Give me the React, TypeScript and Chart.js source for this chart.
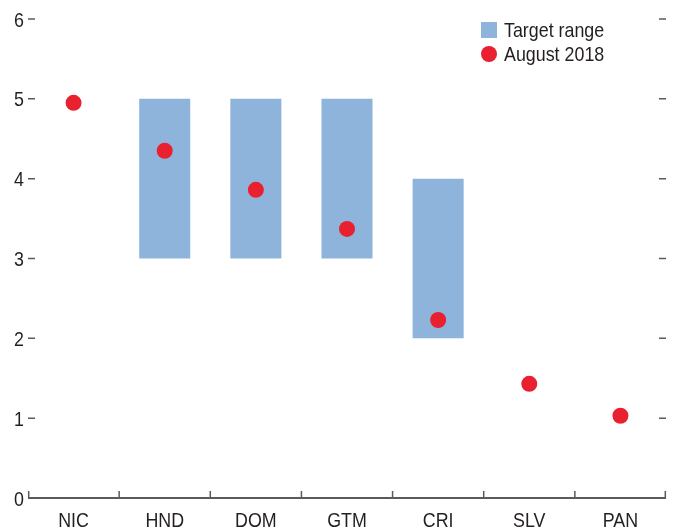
import React, { useEffect, useRef } from "react";
import { Chart, registerables } from "chart.js";

Chart.register(...registerables);

const categories = ["NIC", "HND", "DOM", "GTM", "CRI", "SLV", "PAN"];
const rangeLow: (number | null)[] = [null, 3, 3, 3, 2, null, null];
const rangeHigh: (number | null)[] = [null, 5, 5, 5, 4, null, null];
const august2018 = [4.95, 4.35, 3.86, 3.37, 2.23, 1.43, 1.03];
const yTicks = [0, 1, 2, 3, 4, 5, 6];
const legendLabels = ["Target range", "August 2018"];

const FONT = "'Liberation Sans', Arial, sans-serif";
const FONT_SIZE = 21;
const SQUEEZE = 0.85;
const TEXT = "#231f20";
const AXIS = "#5a5a5a";
const BLUE = "#8fb4db";
const RED = "#e8202f";

function narrowText(ctx: CanvasRenderingContext2D, text: string, x: number, y: number, align: "left" | "right" | "center") {
  ctx.save();
  ctx.font = `${FONT_SIZE}px ${FONT}`;
  ctx.fillStyle = TEXT;
  ctx.textBaseline = "alphabetic";
  ctx.textAlign = align;
  ctx.translate(x, y);
  ctx.scale(SQUEEZE, 1);
  ctx.fillText(text, 0, 0);
  ctx.restore();
}

const axisPlugin = {
  id: "customAxes",
  afterDraw(chart: any) {
    const { ctx, chartArea } = chart;
    const x = chart.scales.x;
    const y = chart.scales.y;
    const left = chartArea.left;
    const right = chartArea.right;
    const bottom = chartArea.bottom;
    ctx.save();
    ctx.strokeStyle = AXIS;
    ctx.lineWidth = 2;
    ctx.beginPath();
    ctx.moveTo(left, bottom);
    ctx.lineTo(right, bottom);
    ctx.stroke();
    ctx.lineWidth = 1.5;
    for (let i = 0; i <= categories.length; i++) {
      let px: number;
      if (i === 0) px = left + 0.7;
      else if (i === categories.length) px = right - 0.7;
      else px = (x.getPixelForValue(i - 1) + x.getPixelForValue(i)) / 2;
      ctx.beginPath();
      ctx.moveTo(px, bottom);
      ctx.lineTo(px, bottom - 7);
      ctx.stroke();
    }
    for (const v of yTicks) {
      const py = y.getPixelForValue(v);
      if (v !== 0) {
        ctx.beginPath();
        ctx.moveTo(left, py);
        ctx.lineTo(left + 7, py);
        ctx.moveTo(right - 7, py);
        ctx.lineTo(right, py);
        ctx.stroke();
      }
      narrowText(ctx, String(v), left - 4, py + 7.5, "right");
    }
    categories.forEach((c, i) => {
      narrowText(ctx, c, x.getPixelForValue(i), bottom + 29, "center");
    });
    const lx = 481;
    ctx.fillStyle = BLUE;
    ctx.fillRect(lx, 22, 16, 16);
    ctx.fillStyle = RED;
    ctx.beginPath();
    ctx.arc(lx + 8, 54, 8, 0, Math.PI * 2);
    ctx.fill();
    narrowText(ctx, legendLabels[0], 504, 37, "left");
    narrowText(ctx, legendLabels[1], 504, 61, "left");
    ctx.restore();
  },
};

export default function App() {
  const ref = useRef<HTMLCanvasElement>(null);
  useEffect(() => {
    if (!ref.current) return;
    const ranges = rangeLow.map((lo, i) =>
      lo === null || rangeHigh[i] === null ? null : [lo, rangeHigh[i] as number]
    );
    const chart = new Chart(ref.current, {
      type: "bar",
      data: {
        labels: categories,
        datasets: [
          {
            type: "line",
            label: legendLabels[1],
            data: august2018,
            showLine: false,
            pointRadius: 8,
            pointHoverRadius: 8,
            pointBackgroundColor: RED,
            pointBorderWidth: 0,
            borderColor: RED,
            backgroundColor: RED,
            order: 0,
          } as any,
          {
            type: "bar",
            label: legendLabels[0],
            data: ranges as any,
            backgroundColor: BLUE,
            borderWidth: 0,
            barPercentage: 0.56,
            categoryPercentage: 1,
            order: 1,
          } as any,
        ],
      },
      options: {
        animation: false,
        responsive: false,
        maintainAspectRatio: false,
        layout: { padding: { top: 19, right: 8, bottom: 4, left: 0 } },
        plugins: { legend: { display: false }, tooltip: { enabled: false } },
        scales: {
          x: {
            afterFit(scale: any) {
              scale.height = 30;
            },
            grid: { display: false },
            border: { display: false },
            ticks: { display: false },
          },
          y: {
            min: 0,
            max: 6,
            afterFit(scale: any) {
              scale.width = 28;
            },
            grid: { display: false },
            border: { display: false },
            ticks: { display: false, stepSize: 1 },
          },
        },
      },
      plugins: [axisPlugin],
    });
    return () => chart.destroy();
  }, []);
  return (
    <div style={{ position: "fixed", left: 0, top: 0, width: 674, height: 532, background: "#fff" }}>
      <canvas ref={ref} width={674} height={532} style={{ width: 674, height: 532 }} />
    </div>
  );
}
